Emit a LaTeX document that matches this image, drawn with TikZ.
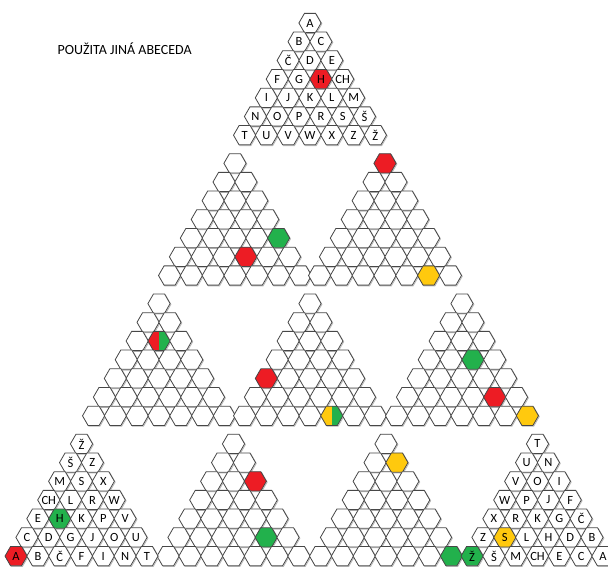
\documentclass[tikz,border=0pt]{standalone}
\usepackage{fontspec}
\setmainfont{Carlito}
\usetikzlibrary{shapes.geometric,shadows}
\definecolor{hexred}{HTML}{ED1C24}
\definecolor{hexgreen}{HTML}{22B14C}
\definecolor{hexyellow}{HTML}{FFC90E}
\tikzset{
  cell/.style={regular polygon,regular polygon sides=6,minimum size=22.2pt,inner sep=0pt,
    draw=black!72,line width=0.8pt,fill=white,font=\fontsize{12.5}{13}\selectfont,
    general shadow={draw=black!28,line width=0.8pt,shadow xshift=0.8pt,shadow yshift=-0.8pt}},
  halves/.style 2 args={path picture={
    \fill[#1] (path picture bounding box.south west) rectangle (path picture bounding box.north);
    \fill[#2] (path picture bounding box.south) rectangle (path picture bounding box.north east);}},
  % marked cells: triangle-row-position
  t0-4-3/.style={fill=hexred},
  t1-5-5/.style={fill=hexgreen}, t1-6-4/.style={fill=hexred},
  t2-1-1/.style={fill=hexred}, t2-7-6/.style={fill=hexyellow},
  t3-3-2/.style={halves={hexred}{hexgreen}},
  t4-5-1/.style={fill=hexred}, t4-7-5/.style={halves={hexyellow}{hexgreen}},
  t5-4-3/.style={fill=hexgreen}, t5-6-5/.style={fill=hexred}, t5-7-7/.style={fill=hexyellow},
  t6-5-2/.style={fill=hexgreen}, t6-7-1/.style={fill=hexred},
  t7-3-3/.style={fill=hexred}, t7-6-5/.style={fill=hexgreen},
  t8-2-2/.style={fill=hexyellow}, t8-7-7/.style={fill=hexgreen},
  t9-6-2/.style={fill=hexyellow}, t9-7-1/.style={fill=hexgreen},
}
% triangle of 7 rows, apex at (#2,#3)
\newcommand{\blanktri}[3]{%
  \foreach \rr in {1,...,7} {
    \foreach \kk in {1,...,\rr} {
      \node[cell,#1-\rr-\kk/.try] (#1-\rr-\kk) at ({#2+(\kk-(\rr+1)/2)*21.8},{#3+(\rr-1)*18.7}) {};
    }
  }}
\newcommand{\lettertri}[4]{%
  \foreach [count=\rr] \rowlist in {#4} {
    \foreach [count=\kk] \lt in \rowlist {
      \node[cell,#1-\rr-\kk/.try] (#1-\rr-\kk) at ({#2+(\kk-(\rr+1)/2)*21.8},{#3+(\rr-1)*18.7}) {\makebox[0pt]{\lt}};
    }
  }}

\begin{document}
\begin{tikzpicture}[x=1pt,y=-1pt]
\useasboundingbox[fill=white] (0,0) rectangle (608,567);
\node[anchor=west,font=\fontsize{14}{15}\selectfont] (title) at (54,49) {POUŽITA JINÁ ABECEDA};
\lettertri{t0}{310}{23}{{A},{B,C},{Č,D,E},{F,G,H,CH},{I,J,K,L,M},{N,O,P,R,S,Š},{T,U,V,W,X,Z,Ž}}
\foreach \nm/\ax/\ay in {t1/235/163.3,t2/385/163.3,t3/159/303.6,t4/310/303.6,t5/462/303.6,t7/233.5/443.9,t8/386/443.9}
  {\blanktri{\nm}{\ax}{\ay}}
\lettertri{t6}{81.5}{443.9}{{Ž},{Š,Z},{M,S,X},{CH,L,R,W},{E,H,K,P,V},{C,D,G,J,O,U},{A,B,Č,F,I,N,T}}
\lettertri{t9}{537.5}{443.9}{{T},{U,N},{V,O,I},{W,P,J,F},{X,R,K,G,Č},{Z,S,L,H,D,B},{Ž,Š,M,CH,E,C,A}}
\end{tikzpicture}
\end{document}
